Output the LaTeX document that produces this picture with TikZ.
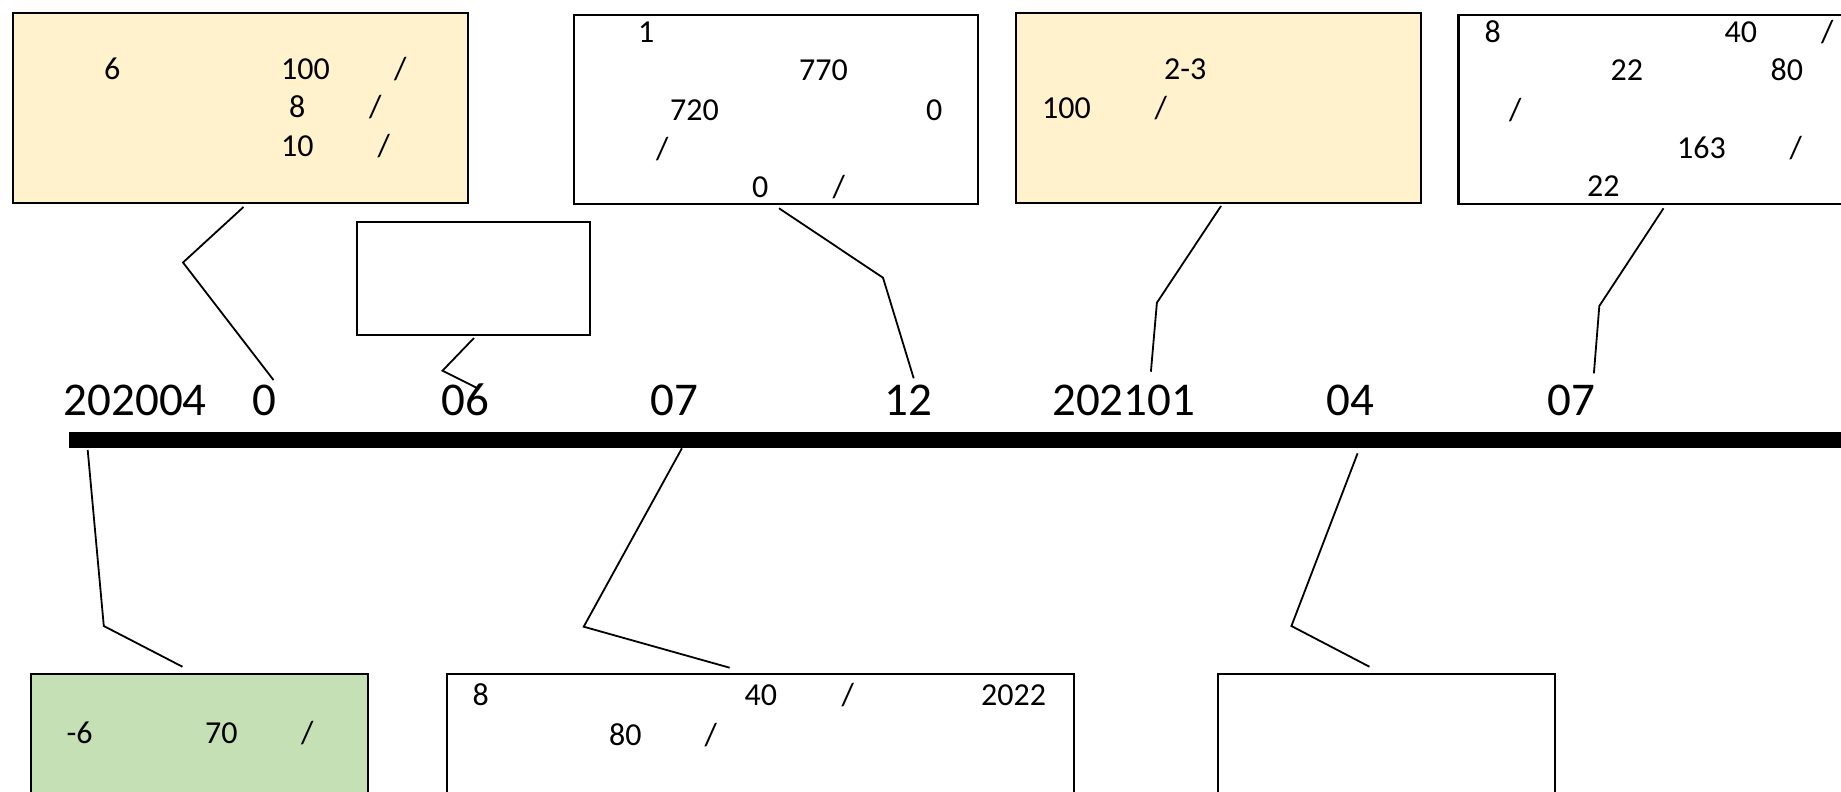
\documentclass[tikz,border=0pt]{standalone}
\usepackage{fontspec}
\setmainfont{Carlito}
\definecolor{paleyellow}{HTML}{FFF2CC}
\definecolor{palegreen}{HTML}{C5E0B4}
\tikzset{
  box/.style={draw=black, line width=2.2pt, inner sep=0pt, anchor=north west},
  link/.style={draw=black, line width=1.8pt, line join=miter},
  txt/.style={anchor=base west, inner sep=0pt, font=\fontsize{32}{38}\selectfont},
  big/.style={anchor=base west, inner sep=0pt, font=\fontsize{47}{56}\selectfont},
}
\begin{document}
\begin{tikzpicture}[x=1pt,y=-1pt]
\useasboundingbox (0,0) rectangle (1841,792);
\clip (0,0) rectangle (1841,792);
\fill[white] (0,0) rectangle (1841,792);

% boxes
\node (A) [box, fill=paleyellow, minimum width=455pt, minimum height=190pt] at (12,12) {};
\node (B) [box, minimum width=233pt, minimum height=113pt] at (355.7,220.7) {};
\node (C) [box, minimum width=404.5pt, minimum height=189pt] at (572.5,14) {};
\node (D) [box, fill=paleyellow, minimum width=405pt, minimum height=190pt] at (1015,11.7) {};
\node (E) [box, minimum width=500pt, minimum height=189pt] at (1457.3,14) {};
\node (F) [box, fill=palegreen, minimum width=336.5pt, minimum height=200pt] at (30,672.5) {};
\node (G) [box, minimum width=627pt, minimum height=200pt] at (446,672.5) {};
\node (H) [box, minimum width=336.5pt, minimum height=200pt] at (1217,672.5) {};

% timeline bar
\node (bar) [fill=black, anchor=north west, minimum width=1800pt, minimum height=16pt, inner sep=0pt] at (68.5,431.7) {};

% timeline labels
\node (l1) [big] at (63.5,415) {202004};
\node (l2) [big] at (252.5,415) {0};
\node (l3) [big] at (441.5,415) {06};
\node (l4) [big] at (650.5,415) {07};
\node (l5) [big] at (884,415) {12};
\node (l6) [big] at (1052,415) {202101};
\node (l7) [big] at (1326,415) {04};
\node (l8) [big] at (1547,415) {07};

% text box A
\node (a1) [txt] at (104,79.3) {6};
\node (a2) [txt] at (281,79.3) {100};
\node (a3) [txt] at (394,79.3) {/};
\node (a4) [txt] at (289,117.3) {8};
\node (a5) [txt] at (369,117.3) {/};
\node (a6) [txt] at (281,156) {10};
\node (a7) [txt] at (377.5,156) {/};

% text box C
\node (c1) [txt] at (638,42.3) {1};
\node (c2) [txt] at (799,81) {770};
\node (c3) [txt] at (670,120) {720};
\node (c4) [txt] at (926,120) {0};
\node (c5) [txt] at (656,159) {/};
\node (c6) [txt] at (752,197) {0};
\node (c7) [txt] at (832.5,197) {/};

% text box D
\node (d1) [txt] at (1164,79.3) {2-3};
\node (d2) [txt] at (1042,118.3) {100};
\node (d3) [txt] at (1154.5,118.3) {/};

% text box E
\node (e1) [txt] at (1484.5,42.3) {8};
\node (e2) [txt] at (1724.5,42.3) {40};
\node (e3) [txt] at (1821,42.3) {/};
\node (e4) [txt] at (1610.5,81) {22};
\node (e5) [txt] at (1770.5,81) {80};
\node (e6) [txt] at (1509,120) {/};
\node (e7) [txt] at (1677,158.3) {163};
\node (e8) [txt] at (1789.5,158.3) {/};
\node (e9) [txt] at (1587,196.7) {22};

% text box F
\node (f1) [txt] at (66.5,743.3) {-6};
\node (f2) [txt] at (205,743.3) {70};
\node (f3) [txt] at (301,743.3) {/};

% text box G
\node (g1) [txt] at (472.5,705) {8};
\node (g2) [txt] at (744.5,705) {40};
\node (g3) [txt] at (841.5,705) {/};
\node (g4) [txt] at (981,705) {2022};
\node (g5) [txt] at (609,745) {80};
\node (g6) [txt] at (704.5,745) {/};

% connector points
\coordinate (pa1) at (243.5,207);  \coordinate (pa2) at (183,262.5); \coordinate (pa3) at (273.5,380);
\coordinate (pb1) at (474,338);    \coordinate (pb2) at (442.5,370.7); \coordinate (pb3) at (477,388);
\coordinate (pc1) at (779,208.3);  \coordinate (pc2) at (883,277.7); \coordinate (pc3) at (913.7,378.3);
\coordinate (pd1) at (1221,206);   \coordinate (pd2) at (1156.9,302.7); \coordinate (pd3) at (1150.9,371.7);
\coordinate (pe1) at (1663.5,208.3); \coordinate (pe2) at (1599.3,306); \coordinate (pe3) at (1593.9,373.3);
\coordinate (pf1) at (87.7,450);   \coordinate (pf2) at (103.8,626); \coordinate (pf3) at (182.4,666.7);
\coordinate (pg1) at (681.9,448.3); \coordinate (pg2) at (583.7,626.7); \coordinate (pg3) at (729.6,667.7);
\coordinate (ph1) at (1357.6,453.3); \coordinate (ph2) at (1291.4,626); \coordinate (ph3) at (1369.4,666.7);

\draw[link] (pa1) -- (pa2) -- (pa3);
\draw[link] (pb1) -- (pb2) -- (pb3);
\draw[link] (pc1) -- (pc2) -- (pc3);
\draw[link] (pd1) -- (pd2) -- (pd3);
\draw[link] (pe1) -- (pe2) -- (pe3);
\draw[link] (pf1) -- (pf2) -- (pf3);
\draw[link] (pg1) -- (pg2) -- (pg3);
\draw[link] (ph1) -- (ph2) -- (ph3);
\end{tikzpicture}
\end{document}
